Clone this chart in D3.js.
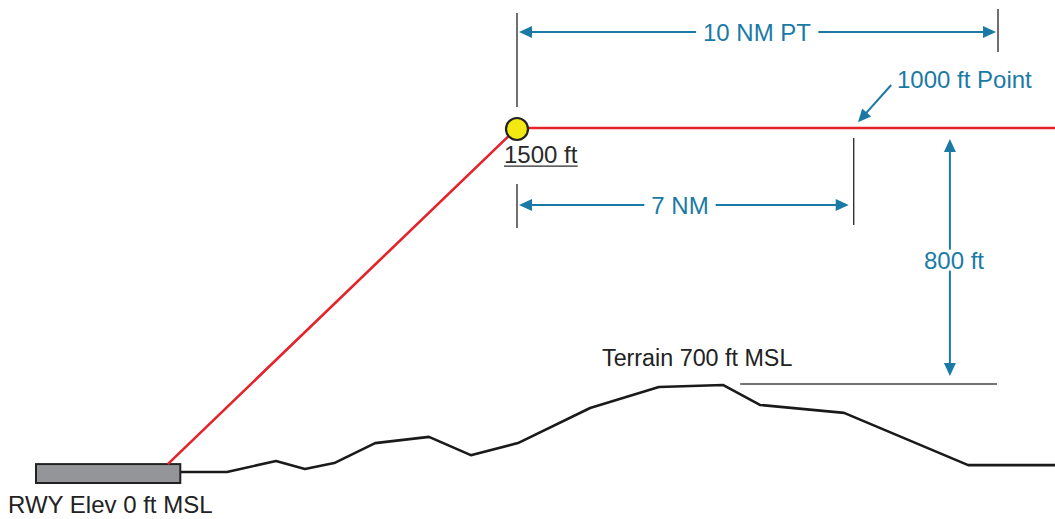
<!DOCTYPE html>
<html><head><meta charset="utf-8">
<script src="https://cdn.jsdelivr.net/npm/d3@7"></script>
<style>html,body{margin:0;padding:0;background:#fff;}svg{display:block;font-family:"Liberation Sans",Arial,sans-serif;}</style>
</head><body>
<script>
// Profile data: distance in NM (0 = 1500 ft fix), height in diagram units (0 = runway, 100 = 1500 ft level)
const terrainNM = [-7.0, -6.03, -5.01, -4.41, -3.80, -2.95, -1.83, -0.96, 0.02, 1.52, 2.95, 4.28, 5.05, 6.80, 9.38, 11.2];
const terrainH  = [0, 0, 3.2, 0.9, 2.6, 8.4, 10.2, 4.9, 8.4, 18.6, 24.7, 25.3, 19.5, 17.2, 2.0, 2.0];
const runwayNM = [-10, -7];
const runwayH  = [-3.2, 2.3];
const pathNM = [-7.26, 0, 11.2];
const pathH  = [2.3, 100, 100];
const fixNM = 0, fixH = 100;
const dimNM10 = [0, 10];
const dimNM7 = [0, 7];
const dim800NM = 9.0;
const dim800H = [100, 25.6];
const terrainRefNM = [4.64, 9.98];
const terrainRefH = 25.6;
const labels = ["10 NM PT", "7 NM", "800 ft", "1000 ft Point", "1500 ft", "Terrain 700 ft MSL", "RWY Elev 0 ft MSL"];

const W = 1055, H = 519;
const BLUE = "#1b7aa5", RED = "#e4232b", YEL = "#f3e812", DARK = "#222";
const x = d3.scaleLinear().domain([0, 10]).range([517, 998]);
const y = d3.scaleLinear().domain([0, 100]).range([472, 128]);

const svg = d3.select("body").append("svg").attr("width", W).attr("height", H);

// terrain
const line = d3.line().x(d => x(d[0])).y(d => y(d[1]));
svg.append("path").datum(d3.zip(terrainNM, terrainH)).attr("d", line)
  .attr("fill", "none").attr("stroke", "#1a1a1a").attr("stroke-width", 2.6).attr("stroke-linejoin", "round");

// runway
svg.append("rect").attr("x", x(runwayNM[0])).attr("y", y(runwayH[1]))
  .attr("width", x(runwayNM[1]) - x(runwayNM[0])).attr("height", y(runwayH[0]) - y(runwayH[1]))
  .attr("fill", "#939598").attr("stroke", "#222").attr("stroke-width", 2);

// glide path
svg.append("path").datum(d3.zip(pathNM, pathH)).attr("d", line)
  .attr("fill", "none").attr("stroke", RED).attr("stroke-width", 2.6);

// extension lines
function vline(nm, h0, h1, color, w) {
  svg.append("line").attr("x1", x(nm)).attr("x2", x(nm)).attr("y1", y(h0)).attr("y2", y(h1))
    .attr("stroke", color || "#333").attr("stroke-width", w || 1.4);
}
vline(dimNM10[0], 133.4, 106.1);
vline(dimNM10[1], 134.6, 122.1);
vline(dimNM7[0], 83.7, 70.9);
vline(dimNM7[1], 97.1, 71.8);
svg.append("line").attr("x1", x(terrainRefNM[0])).attr("x2", x(terrainRefNM[1]))
  .attr("y1", y(terrainRefH)).attr("y2", y(terrainRefH)).attr("stroke", "#444").attr("stroke-width", 1.6);

// arrow helper
function head(px, py, ang) {
  const L = 13, Wd = 6;
  const ca = Math.cos(ang), sa = Math.sin(ang);
  const bx = px - L * ca, by = py - L * sa;
  const pts = [[px, py], [bx - Wd * sa, by + Wd * ca], [bx + Wd * sa, by - Wd * ca]];
  svg.append("polygon").attr("points", pts.map(p => p.join(",")).join(" ")).attr("fill", BLUE);
}
function arrow(x1, y1, x2, y2, both) {
  const ang = Math.atan2(y2 - y1, x2 - x1);
  const c = Math.cos(ang), s = Math.sin(ang);
  svg.append("line").attr("x1", both ? x1 + 8 * c : x1).attr("y1", both ? y1 + 8 * s : y1)
    .attr("x2", x2 - 8 * c).attr("y2", y2 - 8 * s).attr("stroke", BLUE).attr("stroke-width", 2);
  head(x2, y2, ang);
  if (both) head(x1, y1, ang + Math.PI);
}
function boxedText(txt, cx, cy, size) {
  const t = svg.append("text").attr("x", cx).attr("y", cy).attr("text-anchor", "middle")
    .attr("dominant-baseline", "central").attr("font-size", size || 24).attr("fill", BLUE).text(txt);
  const b = t.node().getBBox();
  svg.insert("rect", () => t.node()).attr("x", b.x - 7).attr("y", b.y + 3).attr("width", b.width + 14)
    .attr("height", b.height - 6).attr("fill", "#fff");
}

// 10 NM PT
arrow(x(dimNM10[0]) + 2, y(127.9), x(dimNM10[1]) - 2, y(127.9), true);
boxedText(labels[0], 757, y(127.9));
// 7 NM
arrow(x(dimNM7[0]) + 2, y(77.6), x(dimNM7[1]) - 5, y(77.6), true);
boxedText(labels[1], 680, y(77.6));
// 800 ft
arrow(x(dim800NM), y(dim800H[0]) + 11, x(dim800NM), y(dim800H[1]) - 8, true);
boxedText(labels[2], 954, y(61.6));
// 1000 ft point
arrow(x(7.78), y(112.5), x(7.09), y(101.7), false);
svg.append("text").attr("x", 897).attr("y", y(111.6)).attr("font-size", 24).attr("fill", BLUE).text(labels[3]);

// fix circle
svg.append("circle").attr("cx", x(fixNM)).attr("cy", y(fixH) + 1).attr("r", 11)
  .attr("fill", YEL).attr("stroke", "#222").attr("stroke-width", 2.2);

// black labels
const t1500 = svg.append("text").attr("x", 504).attr("y", y(89.8)).attr("font-size", 24).attr("fill", "#2a2a2a").text(labels[4]);
const bb = t1500.node().getBBox();
svg.append("line").attr("x1", bb.x).attr("x2", bb.x + bb.width).attr("y1", y(88.9)).attr("y2", y(88.9))
  .attr("stroke", "#2a2a2a").attr("stroke-width", 1.3);
svg.append("text").attr("x", 602).attr("y", y(30.8)).attr("font-size", 23.3).attr("fill", DARK).text(labels[5]);
svg.append("text").attr("x", 8).attr("y", y(-12)).attr("font-size", 24).attr("fill", DARK).text(labels[6]);
</script>
</body></html>
